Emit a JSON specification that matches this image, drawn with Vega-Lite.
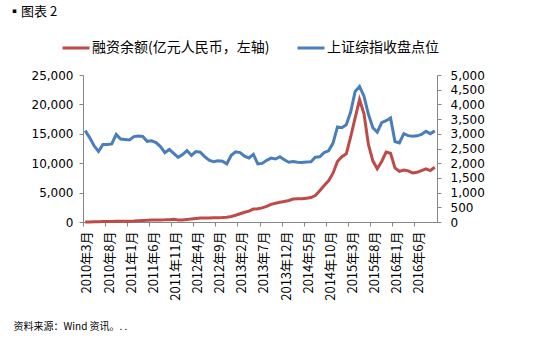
{
  "$schema": "https://vega.github.io/schema/vega-lite/v6.json",
  "autosize": {"type": "none"},
  "width": 354,
  "height": 147,
  "padding": {"left": 83, "top": 75, "right": 113, "bottom": 120},
  "background": "white",
  "title": {
    "text": "▪图表 2",
    "anchor": "start",
    "frame": "group",
    "orient": "top",
    "dx": -75,
    "offset": 14,
    "font": "Noto Sans CJK SC",
    "fontSize": 13,
    "fontWeight": "normal",
    "color": "#000000"
  },
  "config": {
    "view": {"stroke": null},
    "axis": {
      "domainColor": "#868686",
      "tickColor": "#868686",
      "tickSize": 4,
      "grid": false,
      "labelColor": "#000000",
      "labelFont": "DejaVu Sans",
      "labelFontSize": 12
    },
    "legend": {
      "orient": "none",
      "legendX": -22,
      "legendY": -42,
      "direction": "horizontal",
      "symbolType": "stroke",
      "symbolStrokeWidth": 3,
      "symbolSize": 729,
      "labelOffset": 1,
      "columnPadding": 21,
      "labelFont": "Noto Sans CJK SC",
      "labelFontSize": 14,
      "labelColor": "#000000",
      "labelLimit": 400,
      "title": null
    }
  },
  "data": {
    "values": [
      {"month": "2010年3月", "margin": 5, "index": 3109},
      {"month": "2010年4月", "margin": 20, "index": 2871},
      {"month": "2010年5月", "margin": 40, "index": 2592},
      {"month": "2010年6月", "margin": 55, "index": 2398},
      {"month": "2010年7月", "margin": 75, "index": 2638},
      {"month": "2010年8月", "margin": 95, "index": 2639},
      {"month": "2010年9月", "margin": 105, "index": 2656},
      {"month": "2010年10月", "margin": 125, "index": 2979},
      {"month": "2010年11月", "margin": 130, "index": 2820},
      {"month": "2010年12月", "margin": 135, "index": 2808},
      {"month": "2011年1月", "margin": 145, "index": 2791},
      {"month": "2011年2月", "margin": 175, "index": 2905},
      {"month": "2011年3月", "margin": 225, "index": 2928},
      {"month": "2011年4月", "margin": 260, "index": 2912},
      {"month": "2011年5月", "margin": 280, "index": 2744},
      {"month": "2011年6月", "margin": 320, "index": 2762},
      {"month": "2011年7月", "margin": 340, "index": 2702},
      {"month": "2011年8月", "margin": 360, "index": 2567},
      {"month": "2011年9月", "margin": 370, "index": 2359},
      {"month": "2011年10月", "margin": 400, "index": 2468},
      {"month": "2011年11月", "margin": 470, "index": 2333},
      {"month": "2011年12月", "margin": 340, "index": 2199},
      {"month": "2012年1月", "margin": 360, "index": 2293},
      {"month": "2012年2月", "margin": 440, "index": 2429},
      {"month": "2012年3月", "margin": 530, "index": 2263},
      {"month": "2012年4月", "margin": 600, "index": 2396},
      {"month": "2012年5月", "margin": 680, "index": 2372},
      {"month": "2012年6月", "margin": 690, "index": 2225},
      {"month": "2012年7月", "margin": 690, "index": 2104},
      {"month": "2012年8月", "margin": 740, "index": 2048},
      {"month": "2012年9月", "margin": 740, "index": 2086},
      {"month": "2012年10月", "margin": 760, "index": 2069},
      {"month": "2012年11月", "margin": 800, "index": 1980},
      {"month": "2012年12月", "margin": 950, "index": 2269},
      {"month": "2013年1月", "margin": 1150, "index": 2385},
      {"month": "2013年2月", "margin": 1400, "index": 2360},
      {"month": "2013年3月", "margin": 1650, "index": 2237},
      {"month": "2013年4月", "margin": 1850, "index": 2178},
      {"month": "2013年5月", "margin": 2200, "index": 2301},
      {"month": "2013年6月", "margin": 2250, "index": 1979},
      {"month": "2013年7月", "margin": 2400, "index": 1994},
      {"month": "2013年8月", "margin": 2650, "index": 2098},
      {"month": "2013年9月", "margin": 3000, "index": 2175},
      {"month": "2013年10月", "margin": 3200, "index": 2142},
      {"month": "2013年11月", "margin": 3350, "index": 2221},
      {"month": "2013年12月", "margin": 3500, "index": 2116},
      {"month": "2014年1月", "margin": 3650, "index": 2033},
      {"month": "2014年2月", "margin": 3900, "index": 2056},
      {"month": "2014年3月", "margin": 3950, "index": 2033},
      {"month": "2014年4月", "margin": 3950, "index": 2026},
      {"month": "2014年5月", "margin": 4050, "index": 2039},
      {"month": "2014年6月", "margin": 4150, "index": 2048},
      {"month": "2014年7月", "margin": 4500, "index": 2202},
      {"month": "2014年8月", "margin": 5300, "index": 2217},
      {"month": "2014年9月", "margin": 6200, "index": 2364},
      {"month": "2014年10月", "margin": 7000, "index": 2420},
      {"month": "2014年11月", "margin": 8300, "index": 2683},
      {"month": "2014年12月", "margin": 10300, "index": 3235},
      {"month": "2015年1月", "margin": 11100, "index": 3210},
      {"month": "2015年2月", "margin": 11600, "index": 3310},
      {"month": "2015年3月", "margin": 14500, "index": 3748},
      {"month": "2015年4月", "margin": 17700, "index": 4442},
      {"month": "2015年5月", "margin": 20800, "index": 4612},
      {"month": "2015年6月", "margin": 18400, "index": 4277},
      {"month": "2015年7月", "margin": 13200, "index": 3664},
      {"month": "2015年8月", "margin": 10400, "index": 3206},
      {"month": "2015年9月", "margin": 9050, "index": 3053},
      {"month": "2015年10月", "margin": 10300, "index": 3383},
      {"month": "2015年11月", "margin": 11900, "index": 3445},
      {"month": "2015年12月", "margin": 11700, "index": 3539},
      {"month": "2016年1月", "margin": 9200, "index": 2738},
      {"month": "2016年2月", "margin": 8600, "index": 2688},
      {"month": "2016年3月", "margin": 8850, "index": 3004},
      {"month": "2016年4月", "margin": 8700, "index": 2938},
      {"month": "2016年5月", "margin": 8350, "index": 2917},
      {"month": "2016年6月", "margin": 8450, "index": 2930},
      {"month": "2016年7月", "margin": 8750, "index": 2979},
      {"month": "2016年8月", "margin": 9050, "index": 3085},
      {"month": "2016年9月", "margin": 8750, "index": 3005},
      {"month": "2016年10月", "margin": 9300, "index": 3100}
    ]
  },
  "encoding": {
    "x": {
      "field": "month",
      "type": "ordinal",
      "sort": null,
      "scale": {"type": "band", "paddingInner": 0, "paddingOuter": 0},
      "axis": {
        "values": ["2010年3月", "2010年8月", "2011年1月", "2011年6月", "2011年11月", "2012年4月", "2012年9月", "2013年2月", "2013年7月", "2013年12月", "2014年5月", "2014年10月", "2015年3月", "2015年8月", "2016年1月", "2016年6月"],
        "bandPosition": 0,
        "labelOffset": 2.2,
        "labelAngle": -90,
        "labelAlign": "right",
        "labelBaseline": "middle",
        "labelPadding": 5,
        "labelFont": "Noto Sans CJK SC",
        "labelFontSize": 13,
        "title": "资料来源：Wind 资讯。. .",
        "titleX": -70,
        "titleY": 104,
        "titleAlign": "left",
        "titleAnchor": "start",
        "titleBaseline": "middle",
        "titleFont": "Noto Sans CJK SC",
        "titleFontSize": 10,
        "titleFontWeight": "normal",
        "titleColor": "#000000"
      }
    }
  },
  "layer": [
    {
      "mark": {"type": "line", "strokeWidth": 3},
      "encoding": {
        "y": {
          "field": "margin",
          "type": "quantitative",
          "scale": {"domain": [0, 25000], "nice": false},
          "axis": {"values": [0, 5000, 10000, 15000, 20000, 25000], "format": ",.0f", "title": null, "labelPadding": 6}
        },
        "color": {
          "datum": "融资余额(亿元人民币，左轴)",
          "type": "nominal",
          "scale": {"domain": ["融资余额(亿元人民币，左轴)", "上证综指收盘点位"], "range": ["#BE4B48", "#4A7EBB"]}
        }
      }
    },
    {
      "mark": {"type": "line", "strokeWidth": 3},
      "encoding": {
        "y": {
          "field": "index",
          "type": "quantitative",
          "scale": {"domain": [0, 5000], "nice": false},
          "axis": {"orient": "right", "values": [0, 500, 1000, 1500, 2000, 2500, 3000, 3500, 4000, 4500, 5000], "format": ",.0f", "title": null, "labelPadding": 9}
        },
        "color": {"datum": "上证综指收盘点位", "type": "nominal"}
      }
    }
  ],
  "resolve": {"scale": {"y": "independent"}}
}
